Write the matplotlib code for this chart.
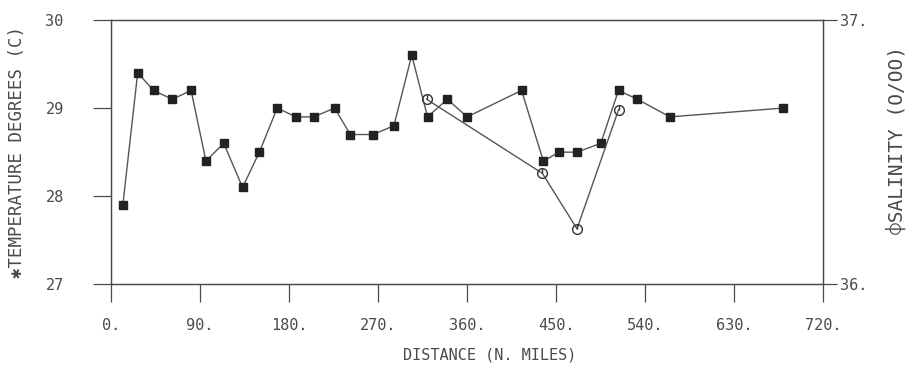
import matplotlib
matplotlib.use("Agg")
import matplotlib.pyplot as plt
from matplotlib.path import Path

# Station data along the track
temp_distance = [12, 27, 43, 62, 81, 96, 114, 133, 150, 168, 187, 205, 226,
                 242, 265, 286, 304, 320, 340, 360, 415, 437, 453, 471, 495,
                 513, 532, 565, 679]
temperature = [27.9, 29.4, 29.2, 29.1, 29.2, 28.4, 28.6, 28.1, 28.5, 29.0,
               28.9, 28.9, 29.0, 28.7, 28.7, 28.8, 29.6, 28.9, 29.1, 28.9,
               29.2, 28.4, 28.5, 28.5, 28.6, 29.2, 29.1, 28.9, 29.0]

sal_distance = [319, 436, 471, 513]
salinity = [36.70, 36.42, 36.21, 36.66]

x_ticks = [0, 90, 180, 270, 360, 450, 540, 630, 720]
x_ticklabels = ["0.", "90.", "180.", "270.", "360.", "450.", "540.", "630.", "720."]
t_ticks = [27, 28, 29, 30]
t_ticklabels = ["27", "28", "29", "30"]
s_ticks = [36, 37]
s_ticklabels = ["36.", "37."]

FONT = ["DejaVu Sans Mono", "DejaVu Sans", "Noto Sans"]
INK = "#4a4a4a"
plt.rcParams["font.family"] = FONT

fig = plt.figure(figsize=(9.14, 3.8), dpi=100)
ax = fig.add_axes([0.1214, 0.2516, 0.9008 - 0.1214, 0.9476 - 0.2516])

ax.plot(temp_distance, temperature, color="#555555", lw=1.0,
        marker="s", ms=5.5, mfc="#222222", mec="#222222", zorder=3)
ax.set_xlim(0, 720)
ax.set_ylim(27, 30)

ax.set_xticks(x_ticks)
ax.set_xticklabels(x_ticklabels)
ax.set_yticks(t_ticks)
ax.set_yticklabels(t_ticklabels)
ax.tick_params(axis="x", direction="out", length=13, width=0.9, color=INK,
               labelsize=11, labelcolor=INK, pad=11)
ax.tick_params(axis="y", direction="out", length=13, width=0.9, color=INK,
               labelsize=11, labelcolor=INK, pad=21)
for s in ax.spines.values():
    s.set_color(INK)
    s.set_linewidth(0.9)

ax2 = ax.twinx()
ax2.set_ylim(36, 37)
ax2.set_yticks(s_ticks)
ax2.set_yticklabels(s_ticklabels)
ax2.tick_params(axis="y", direction="out", length=10, width=0.9, color=INK,
                labelsize=11, labelcolor=INK, pad=2)
for s in ax2.spines.values():
    s.set_color(INK)
    s.set_linewidth(0.9)

# salinity: open circle with a short vertical stroke from the centre up
stroke = Path([(0, 0), (0, 1)], [Path.MOVETO, Path.LINETO])
ax2.plot(sal_distance, salinity, color="#555555", lw=1.0,
         marker="o", ms=7, mfc="none", mec="#333333", mew=1.0, zorder=3)
ax2.plot(sal_distance, salinity, ls="none", marker=stroke, ms=7,
         mec="#333333", mew=1.0, zorder=4)

fig.text(490 / 914, 1 - 355 / 380, "DISTANCE (N. MILES)", ha="center",
         va="center", fontsize=11, color=INK)
fig.text(17 / 914, 1 - 152 / 380, "\u2731TEMPERATURE DEGREES (C)",
         rotation=90, ha="center", va="center", fontsize=12.5, color=INK)
fig.text(897 / 914, 1 - 140 / 380, "\u233dSALINITY (O/OO)",
         rotation=90, ha="center", va="center", fontsize=14, color=INK)

fig.savefig("out.png", dpi=100, facecolor="white")
